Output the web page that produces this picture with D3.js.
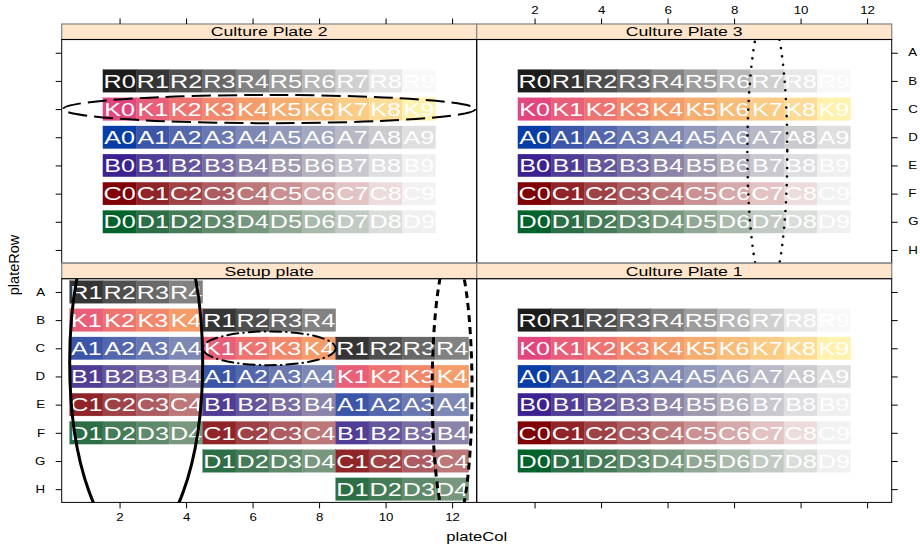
<!DOCTYPE html>
<html>
<head>
<meta charset="utf-8">
<script src="https://cdn.jsdelivr.net/npm/d3@7"></script>
<style>
  body { margin: 0; background: #fff; }
  text { font-family: "Liberation Sans", Arial, Helvetica, sans-serif; }
</style>
</head>
<body>
<script>
const w = 920;
const h = 547;

// data
const plateRows = ["A","B","C","D","E","F","G","H"];
const colTicks = [2,4,6,8,10,12];
const series = ["R","K","A","B","C","D"];
const cultureRows = ["B","C","D","E","F","G"];
const cultureCols = [2,3,4,5,6,7,8,9,10,11];
const cultureIdx = [0,1,2,3,4,5,6,7,8,9];
const setupStartRows = ["A","B","C"];
const setupCols = [[1,2,3,4],[5,6,7,8],[9,10,11,12]];
const setupIdx = [1,2,3,4];
const panelNames = ["Culture Plate 2","Culture Plate 3","Setup plate","Culture Plate 1"];
const ellipses = [
  {panel:"Culture Plate 2", cx:6.5, cy:3,   rx:6.2, ry:0.5, kind:"dashed"},
  {panel:"Culture Plate 3", cx:9,   cy:4.5, rx:0.6, ry:5,   kind:"dotted"},
  {panel:"Setup plate",     cx:2.5, cy:3.5, rx:2,   ry:6.5, kind:"solid"},
  {panel:"Setup plate",     cx:6.5, cy:3,   rx:2,   ry:0.6, kind:"dotdash"},
  {panel:"Setup plate",     cx:12,  cy:4.5, rx:0.6, ry:5,   kind:"shortdash"}
];

const palettes = {
  R: ["#1b1b1b","#353535","#4f4f4f","#686868","#828282","#9c9c9c","#b6b6b6","#d0d0d0","#e8e8e8","#f8f8f8"],
  K: ["#e1467e","#e85f79","#ee7471","#f2886b","#f49c6a","#f6ad70","#f8bd78","#facc85","#fcdc96","#fff2ac"],
  A: ["#083ea6","#3b55a8","#5467ad","#6a78b1","#7e88b5","#9198ba","#a4a8bf","#b8b9c5","#cbcbcf","#dfdfdf"],
  B: ["#3c2191","#503d96","#64569c","#786ca2","#8c83a9","#a09ab1","#b5b1bd","#cac8cf","#dedde1","#f0f0f0"],
  C: ["#7f0005","#8f2528","#9e4246","#ad5d61","#bc7879","#c99193","#d6aaac","#e2c4c5","#ecdcdc","#f3f2f2"],
  D: ["#00632b","#2c6e45","#457b57","#5e896a","#77977e","#90a794","#a9b9ab","#c2cbc3","#dadedb","#f0f0f0"]
};
const lineStyles = {
  dashed:    {width:2,   dash:"19,7", cap:"butt"},
  dotted:    {width:2.6, dash:"0,8.5",  cap:"round"},
  solid:     {width:3,   dash:null,   cap:"butt"},
  dotdash:   {width:2,   dash:"11,5,0.5,5", cap:"round"},
  shortdash: {width:3,   dash:"7,5",  cap:"butt"}
};

const stretch = 1.33;   // text in the picture is wide
const xLeft = 61.7, panelW = 415, top0 = 24, stripH = 15.5, plotH = 223.7;

const xScale = d3.scaleLinear().domain([0.26, 12.74]).range([0, panelW]);
const yScale = d3.scaleLinear().domain([0.53, 8.47]).range([0, plotH]);
const rowPos = r => yScale(plateRows.indexOf(r) + 1);
const rowScale = d3.scaleOrdinal().domain(plateRows).range(plateRows.map((r,i)=>yScale(i+1)));

const svg = d3.select("body").append("svg")
  .attr("width", w).attr("height", h);

// build tiles per panel
function cultureTiles() {
  const out = [];
  series.forEach((s, si) => {
    cultureIdx.forEach((k, ki) => {
      out.push({row: cultureRows[si], col: cultureCols[ki], label: s + k, fill: palettes[s][k]});
    });
  });
  return out;
}
function setupTiles() {
  const out = [];
  setupStartRows.forEach((start, b) => {
    const r0 = plateRows.indexOf(start);
    series.forEach((s, si) => {
      setupIdx.forEach((k, ki) => {
        out.push({row: plateRows[r0 + si], col: setupCols[b][ki], label: s + k, fill: palettes[s][k]});
      });
    });
  });
  return out;
}

const tileH = yScale(1.8) - yScale(1);
const tileW = xScale(1.5) - xScale(0.5);

panelNames.forEach((name, i) => {
  const px = xLeft + (i % 2) * panelW;
  const py = top0 + Math.floor(i / 2) * (stripH + plotH);
  const g = svg.append("g").attr("transform", `translate(${px},${py})`);

  // strip
  g.append("rect")
    .attr("width", panelW).attr("height", stripH)
    .attr("fill", "#ffe5cc").attr("stroke", "#8a8a8a").attr("stroke-width", 1.3);
  g.append("text")
    .attr("transform", `translate(${panelW/2},${stripH/2 + 4.7}) scale(${stretch},1)`)
    .attr("text-anchor", "middle").attr("font-size", 13.3).attr("fill", "#000")
    .text(name);

  const p = g.append("g").attr("transform", `translate(0,${stripH})`);
  const clipId = "clip" + i;
  p.append("clipPath").attr("id", clipId)
    .append("rect").attr("width", panelW).attr("height", plotH);

  const tiles = name === "Setup plate" ? setupTiles() : cultureTiles();
  p.selectAll("rect.tile").data(tiles).enter().append("rect")
    .attr("class", "tile")
    .attr("x", d => xScale(d.col - 0.5))
    .attr("y", d => rowPos(d.row) - tileH / 2)
    .attr("width", tileW)
    .attr("height", tileH)
    .attr("fill", d => d.fill)
    .attr("stroke", d => d.fill).attr("stroke-width", 0.3);

  p.selectAll("text.lab").data(tiles).enter().append("text")
    .attr("class", "lab")
    .attr("transform", d => `translate(${xScale(d.col)},${rowPos(d.row) + 6.7}) scale(1.36,1)`)
    .attr("text-anchor", "middle")
    .attr("font-size", 18.5)
    .attr("fill", "#fff")
    .text(d => d.label);

  // ellipses
  p.append("g").attr("clip-path", `url(#${clipId})`)
    .selectAll("ellipse").data(ellipses.filter(e => e.panel === name)).enter()
    .append("ellipse")
    .attr("cx", d => xScale(d.cx))
    .attr("cy", d => yScale(d.cy))
    .attr("rx", d => xScale(d.cx + d.rx) - xScale(d.cx))
    .attr("ry", d => yScale(d.cy + d.ry) - yScale(d.cy))
    .attr("fill", "none")
    .attr("stroke", "#000")
    .attr("stroke-width", d => lineStyles[d.kind].width)
    .attr("stroke-dasharray", d => lineStyles[d.kind].dash)
    .attr("stroke-linecap", d => lineStyles[d.kind].cap);

  p.append("rect")
    .attr("width", panelW).attr("height", plotH)
    .attr("fill", "none").attr("stroke", "#000").attr("stroke-width", 1);

  // axes (lattice style alternating labels)
  const row = Math.floor(i / 2), colp = i % 2;
  if (row === 0) {
    g.append("g").call(d3.axisTop(xScale).tickValues(colTicks).tickSize(5.5).tickPadding(5)
        .tickFormat(colp === 1 ? d3.format("d") : () => ""))
      .call(styleAxis);
  } else {
    p.append("g").attr("transform", `translate(0,${plotH})`)
      .call(d3.axisBottom(xScale).tickValues(colTicks).tickSize(6).tickPadding(6)
        .tickFormat(colp === 0 ? d3.format("d") : () => ""))
      .call(styleAxis);
  }
  if (colp === 0) {
    p.append("g").call(d3.axisLeft(rowScale).tickSize(6).tickPadding(6.4)
        .tickFormat(row === 1 ? null : () => ""))
      .call(styleAxis);
  } else {
    p.append("g").attr("transform", `translate(${panelW},0)`)
      .call(d3.axisRight(rowScale).tickSize(6).tickPadding(6.4)
        .tickFormat(row === 0 ? null : () => ""))
      .call(styleAxis);
  }
});

function styleAxis(ax) {
  ax.select(".domain").remove();
  ax.selectAll(".tick line").attr("stroke", "#000").attr("stroke-width", 1);
  ax.selectAll(".tick text")
    .attr("font-size", 10)
    .attr("font-family", "Liberation Sans, Arial, sans-serif")
    .attr("fill", "#000")
    .attr("transform", `scale(${stretch},1)`);
  ax.attr("font-family", null);
}

// axis titles
svg.append("text")
  .attr("transform", `translate(${xLeft + panelW},${541}) scale(${stretch},1)`)
  .attr("text-anchor", "middle").attr("font-size", 12.5)
  .text("plateCol");
svg.append("text")
  .attr("transform", `translate(19,${265}) rotate(-90)`)
  .attr("text-anchor", "middle").attr("font-size", 14.5)
  .text("plateRow");
</script>
</body>
</html>
